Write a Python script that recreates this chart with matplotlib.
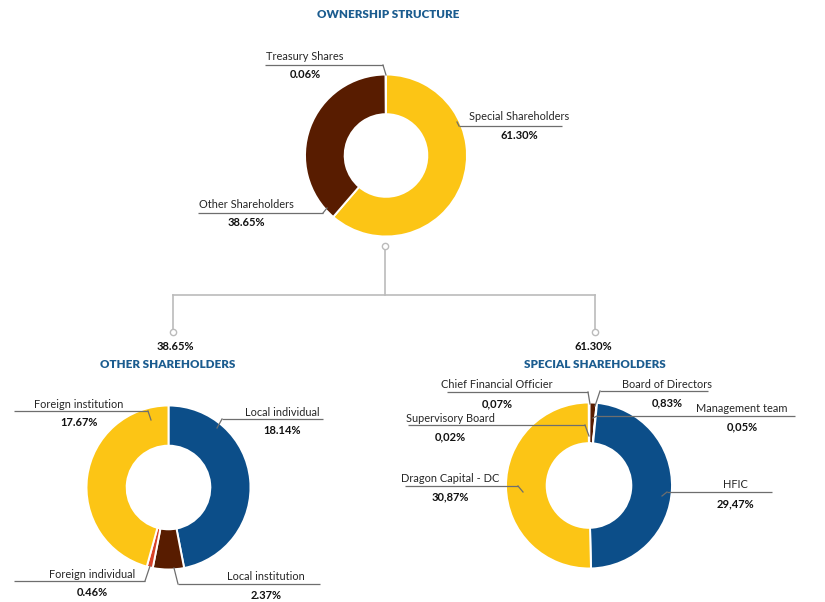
import matplotlib
matplotlib.use("Agg")
import matplotlib.pyplot as plt

plt.rcParams['font.family'] = ['Lato', 'DejaVu Sans']

W, H = 825, 602

# ---------------- data ----------------
top_labels = ["Special Shareholders", "Other Shareholders", "Treasury Shares"]
top_values = [61.30, 38.65, 0.06]

other_labels = ["Local individual", "Local institution", "Foreign individual", "Foreign institution"]
other_values = [18.14, 2.37, 0.46, 17.67]

special_labels = ["Chief Financial Officier", "Board of Directors", "Management team",
                  "HFIC", "Dragon Capital - DC", "Supervisory Board"]
special_values = [0.07, 0.83, 0.05, 29.47, 30.87, 0.02]

titles = ["OWNERSHIP STRUCTURE", "OTHER SHAREHOLDERS", "SPECIAL SHAREHOLDERS"]

# ---------------- style ----------------
YELLOW = "#FCC515"
BROWN = "#581C00"
BLUE = "#0C4E89"
RED = "#D8432A"
NAVY = "#1B5C8F"
GREY = "#BBBBBB"
LINE = "#6E6E6E"

top_colors = [YELLOW, BROWN, BROWN]
other_colors = [BLUE, BROWN, RED, YELLOW]
special_colors = [YELLOW, BROWN, BROWN, BLUE, YELLOW, YELLOW]

fig = plt.figure(figsize=(W / 100, H / 100), dpi=100)
ax = fig.add_axes([0, 0, 1, 1])


def P(x, y):
    return x, H - y


def donut(values, colors, cx, cy, r, width=0.49):
    ax.pie(values, colors=colors, startangle=90, counterclock=False,
           center=P(cx, cy), radius=r,
           wedgeprops=dict(width=r * width, edgecolor="white", linewidth=1.4))


donut(top_values, top_colors, 386, 155.5, 81)
donut(other_values, other_colors, 168.5, 487.5, 82)
donut(special_values, special_colors, 589, 485.5, 83)

LBL = 7.9
PCT = 8.0


def label(name, pct, tx, ty, line_x0, line_x1, line_y, anchor, elbow):
    ax.text(*P(tx, ty), name, ha="center", va="center", fontsize=LBL, color="#262626")
    ax.text(*P(tx, ty + 18.5), pct, ha="center", va="center", fontsize=PCT,
            fontweight="bold", color="#111111")
    a, b = P(line_x0, line_y), P(line_x1, line_y)
    ax.plot([a[0], b[0]], [a[1], b[1]], color=LINE, lw=0.9, solid_capstyle="butt")
    ex, ey = P(elbow, line_y)
    axx, ayy = P(*anchor)
    ax.plot([ex, axx], [ey, ayy], color=LINE, lw=0.9)


def fmt(v, comma=False):
    s = f"{v:.2f}%"
    return s.replace(".", ",") if comma else s


# top donut labels
label(top_labels[2], fmt(top_values[2]), 305, 56, 265, 383, 65, (386, 75), 383)
label(top_labels[0], fmt(top_values[0]), 519, 117, 459, 562, 126, (457, 122), 459)
label(top_labels[1], fmt(top_values[1]), 246, 204, 198, 323, 213, (327, 208), 323)

# other shareholders labels
label(other_labels[3], fmt(other_values[3]), 79, 404, 14, 148, 411, (151, 420), 148)
label(other_labels[0], fmt(other_values[0]), 282, 412, 222, 323, 419, (217, 428), 222)
label(other_labels[2], fmt(other_values[2]), 92, 574, 14, 145, 581, (150, 566), 145)
label(other_labels[1], fmt(other_values[1]), 266, 577, 178, 320, 584, (174, 568), 178)

# special shareholders labels
label(special_labels[0], fmt(special_values[0], True), 497, 385, 447, 588, 392, (590, 404), 588)
label(special_labels[1], fmt(special_values[1], True), 667, 384, 600, 708, 391, (595, 406), 600)
label(special_labels[5], fmt(special_values[5], True), 450, 418, 408, 585, 425, (589, 436), 585)
label(special_labels[2], fmt(special_values[2], True), 742, 408, 597, 795, 416, (593, 418), 597)
label(special_labels[4], fmt(special_values[4], True), 450, 478, 405, 518, 486, (523, 492), 518)
label(special_labels[3], fmt(special_values[3], True), 735, 485, 667, 772, 492, (662, 496), 667)

# titles
for t, (x, y) in zip(titles, [(388, 15), (168, 365), (595, 365)]):
    ax.text(*P(x, y), t, ha="center", va="center", fontsize=8.4,
            fontweight="heavy", color=NAVY)


# connector tree
def seg(x0, y0, x1, y1):
    a, b = P(x0, y0), P(x1, y1)
    ax.plot([a[0], b[0]], [a[1], b[1]], color=GREY, lw=1.2, zorder=1)


seg(385, 249, 385, 295)
seg(173, 295, 595, 295)
seg(173, 295, 173, 329)
seg(595, 295, 595, 329)
for (cx, cy) in [(385, 246), (173, 332), (595, 332)]:
    ax.plot(*P(cx, cy), marker="o", ms=4.5, mfc="white", mec=GREY, mew=1.0)

ax.text(*P(175, 346), fmt(top_values[1]), ha="center", va="center", fontsize=PCT,
        fontweight="bold", color="#111111")
ax.text(*P(593, 346), fmt(top_values[0]), ha="center", va="center", fontsize=PCT,
        fontweight="bold", color="#111111")

ax.set_xlim(0, W)
ax.set_ylim(0, H)
ax.set_aspect("equal")
ax.axis("off")

fig.savefig("out.png", dpi=100, facecolor="white")
